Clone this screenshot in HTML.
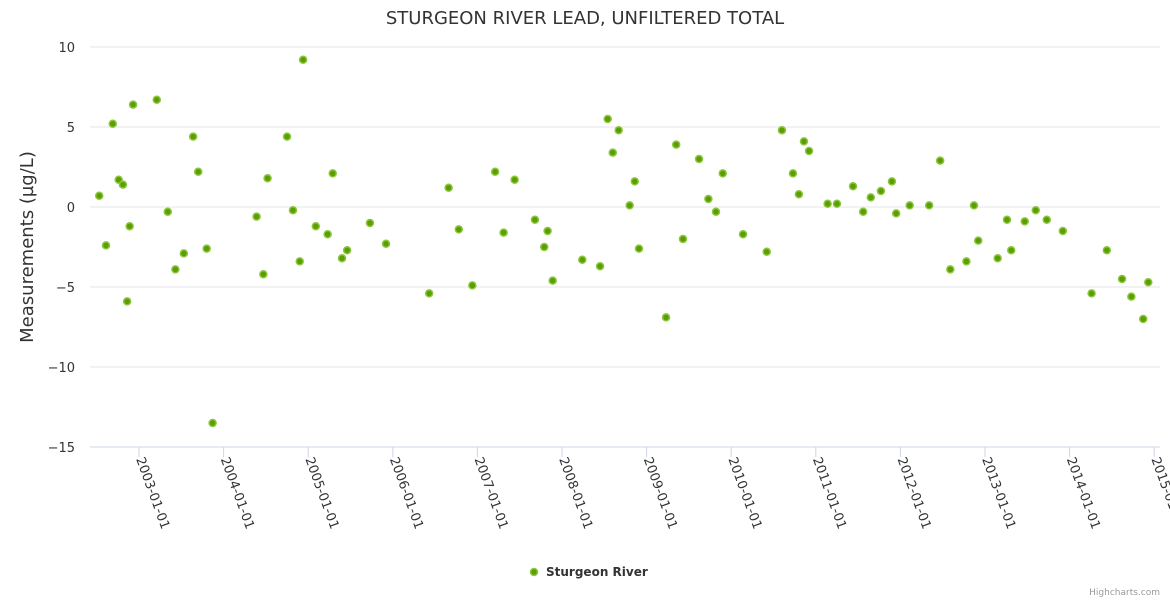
<!DOCTYPE html>
<html><head><meta charset="utf-8"><style>
body{margin:0;background:#fff;font-family:"Liberation Sans","DejaVu Sans",sans-serif}
svg text{font-family:"DejaVu Sans","Liberation Sans",sans-serif}
</style></head><body>
<svg id="c" width="1170" height="600" xmlns="http://www.w3.org/2000/svg">
<text x="585" y="24" text-anchor="middle" font-size="18" fill="#333">STURGEON RIVER LEAD, UNFILTERED TOTAL</text>
<text transform="translate(33,247) rotate(-90)" text-anchor="middle" font-size="18" fill="#333">Measurements (µg/L)</text>
<g id="grid"></g><g id="xaxis"></g><g id="pts"></g>
<g>
<circle cx="534" cy="572" r="3.5" fill="#5a9e00" stroke="#8cc63f" stroke-width="1.5"/>
<text x="546" y="576" font-size="12" font-weight="bold" fill="#333">Sturgeon River</text></g>
<text x="1160" y="595" text-anchor="end" font-size="9" fill="#999">Highcharts.com</text>
</svg>
<script>
const yTicks=[10,5,0,-5,-10,-15];
const xTickYears=[2003,2004,2005,2006,2007,2008,2009,2010,2011,2012,2013,2014,2015];
const xTickLabels=["2003-01-01","2004-01-01","2005-01-01","2006-01-01","2007-01-01","2008-01-01","2009-01-01","2010-01-01","2011-01-01","2012-01-01","2013-01-01","2014-01-01","2015-01-01"];
const dates=[2002.53,2002.61,2002.69,2002.76,2002.81,2002.86,2002.89,2002.93,2003.21,2003.34,2003.43,2003.53,2003.64,2003.70,2003.80,2003.87,2004.39,2004.47,2004.52,2004.75,2004.82,2004.90,2004.94,2005.09,2005.23,2005.29,2005.40,2005.46,2005.73,2005.92,2006.43,2006.66,2006.78,2006.94,2007.21,2007.31,2007.44,2007.68,2007.79,2007.83,2007.89,2008.24,2008.45,2008.54,2008.60,2008.67,2008.80,2008.86,2008.91,2009.23,2009.35,2009.43,2009.62,2009.73,2009.82,2009.90,2010.14,2010.42,2010.60,2010.73,2010.80,2010.86,2010.92,2011.14,2011.25,2011.44,2011.56,2011.65,2011.77,2011.90,2011.95,2012.11,2012.34,2012.47,2012.59,2012.78,2012.87,2012.92,2013.15,2013.26,2013.31,2013.47,2013.60,2013.73,2013.92,2014.26,2014.44,2014.62,2014.73,2014.87,2014.93];
const values=[0.7,-2.4,5.2,1.7,1.4,-5.9,-1.2,6.4,6.7,-0.3,-3.9,-2.9,4.4,2.2,-2.6,-13.5,-0.6,-4.2,1.8,4.4,-0.2,-3.4,9.2,-1.2,-1.7,2.1,-3.2,-2.7,-1.0,-2.3,-5.4,1.2,-1.4,-4.9,2.2,-1.6,1.7,-0.8,-2.5,-1.5,-4.6,-3.3,-3.7,5.5,3.4,4.8,0.1,1.6,-2.6,-6.9,3.9,-2.0,3.0,0.5,-0.3,2.1,-1.7,-2.8,4.8,2.1,0.8,4.1,3.5,0.2,0.2,1.3,-0.3,0.6,1.0,1.6,-0.4,0.1,0.1,2.9,-3.9,-3.4,0.1,-2.1,-3.2,-0.8,-2.7,-0.9,-0.2,-0.8,-1.5,-5.4,-2.7,-4.5,-5.6,-7.0,-4.7];
const NS="http://www.w3.org/2000/svg";
const X=v=>139+(v-2003)*84.6, Y=v=>207-v*16;
function mk(t,a,p){const e=document.createElementNS(NS,t);for(const k in a)e.setAttribute(k,a[k]);p.appendChild(e);return e;}
const g=document.getElementById('grid'),xa=document.getElementById('xaxis'),pg=document.getElementById('pts');
yTicks.forEach(t=>{
 const l=mk('line',{x1:90,x2:1160,y1:Y(t),y2:Y(t),stroke:t==-15?'#ccd6eb':'#e6e6e6','stroke-width':1},g);
 
 
 const tx=mk('text',{x:75,y:Y(t)+5,'text-anchor':'end','font-size':13,fill:'#333'},g);
 tx.textContent=t<0?'\u2212'+(-t):String(t);
 
 
});
xTickYears.forEach((yr,i)=>{
 const x=X(yr);
 const l=mk('line',{x1:x,x2:x,y1:447,y2:457,stroke:'#ccd6eb'},xa);
 
 
 const tx=mk('text',{transform:`translate(${x-3},${459}) rotate(70)`,'font-size':13,fill:'#333'},xa);
 tx.textContent=xTickLabels[i];
 
 
});
dates.forEach((d,i)=>{
 const c=mk('circle',{cx:X(d),cy:Y(values[i]),r:3.5,fill:'#5a9e00',stroke:'#8cc63f','stroke-width':1.5},pg);
 
 
});
</script>
</body></html>
